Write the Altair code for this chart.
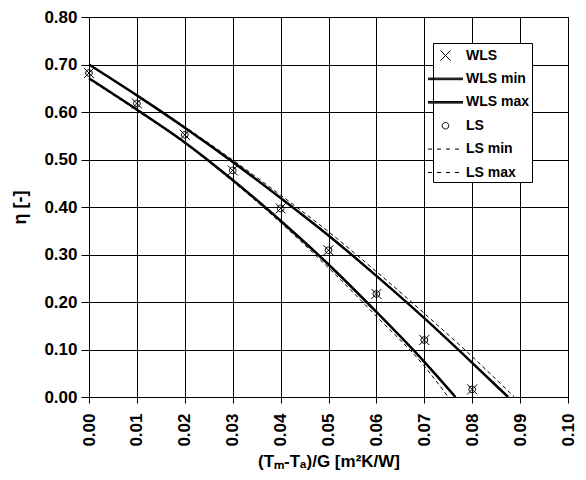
import altair as alt
import pandas as pd

# ---- data ----
x_points = [0.00, 0.01, 0.02, 0.03, 0.04, 0.05, 0.06, 0.07, 0.08]
eta_wls = [0.682, 0.618, 0.552, 0.477, 0.397, 0.309, 0.217, 0.120, 0.016]
eta_ls = [0.682, 0.618, 0.552, 0.477, 0.397, 0.309, 0.217, 0.120, 0.016]

x_wls_max = [0.00, 0.01, 0.02, 0.03, 0.04, 0.05, 0.06, 0.07, 0.08, 0.0875]
eta_wls_max = [0.700, 0.635, 0.567, 0.495, 0.419, 0.340, 0.255, 0.166, 0.072, 0.000]

x_wls_min = [0.00, 0.01, 0.02, 0.03, 0.04, 0.05, 0.06, 0.07, 0.0765]
eta_wls_min = [0.671, 0.605, 0.536, 0.457, 0.371, 0.279, 0.179, 0.074, 0.000]

x_ls_max = [0.00, 0.01, 0.02, 0.03, 0.04, 0.05, 0.06, 0.07, 0.08, 0.0888]
eta_ls_max = [0.700, 0.636, 0.569, 0.499, 0.425, 0.348, 0.264, 0.176, 0.085, 0.000]

x_ls_min = [0.00, 0.01, 0.02, 0.03, 0.04, 0.05, 0.06, 0.07, 0.0750]
eta_ls_min = [0.669, 0.603, 0.534, 0.454, 0.367, 0.272, 0.170, 0.065, 0.000]

series_names = ["WLS", "WLS min", "WLS max", "LS", "LS min", "LS max"]
x_ticks = [0.00, 0.01, 0.02, 0.03, 0.04, 0.05, 0.06, 0.07, 0.08, 0.09, 0.10]
y_ticks = [0.0, 0.1, 0.2, 0.3, 0.4, 0.5, 0.6, 0.7, 0.8]

# ---- tables ----
pts = pd.concat([
    pd.DataFrame({"x": x_points, "eta": eta_wls, "series": "WLS"}),
    pd.DataFrame({"x": x_points, "eta": eta_ls, "series": "LS"}),
])
solid = pd.concat([
    pd.DataFrame({"x": x_wls_min, "eta": eta_wls_min, "series": "WLS min"}),
    pd.DataFrame({"x": x_wls_max, "eta": eta_wls_max, "series": "WLS max"}),
])
dashed = pd.concat([
    pd.DataFrame({"x": x_ls_min, "eta": eta_ls_min, "series": "LS min"}),
    pd.DataFrame({"x": x_ls_max, "eta": eta_ls_max, "series": "LS max"}),
])

FONT = "Liberation Sans"

cross = "M-0.5,-0.5L0.5,0.5M-0.5,0.5L0.5,-0.5"
circ = "M-0.33,0A0.33,0.33 0 1,0 0.33,0A0.33,0.33 0 1,0 -0.33,0Z"
bar = "M-1.75,-0.08L1.75,-0.08M-1.75,0L1.75,0M-1.75,0.08L1.75,0.08"
dash = "M-1.75,0L-1.35,0M-0.85,0L-0.45,0M0.05,0L0.45,0M0.95,0L1.35,0"
shape_range = [cross, bar, bar, circ, dash, dash]

xs = alt.X("x:Q", scale=alt.Scale(domain=[0, 0.1], nice=False),
           axis=alt.Axis(values=x_ticks, format=".2f", labelAngle=270,
                         labelAlign="right", labelBaseline="middle",
                         title="(Tₘ-Tₐ)/G [m²K/W]", tickSize=6, labelPadding=10,
                         titlePadding=7, titleFontSize=17))
ys = alt.Y("eta:Q", scale=alt.Scale(domain=[0, 0.8], nice=False),
           axis=alt.Axis(values=y_ticks, format=".2f", title="η [-]",
                         tickSize=8, labelPadding=4, titlePadding=14,
                         titleFontSize=18))

lines_solid = alt.Chart(solid).mark_line(color="black", strokeWidth=2.5,
                                          interpolate="monotone").encode(
    x=xs, y=ys, detail="series:N")
lines_dashed = alt.Chart(dashed).mark_line(color="black", strokeWidth=1,
                                            strokeDash=[4, 3],
                                            interpolate="monotone").encode(
    x=xs, y=ys, detail="series:N")
points = alt.Chart(pts).mark_point(color="black", filled=False, size=400,
                                   strokeWidth=1, opacity=1).encode(
    x=xs, y=ys,
    shape=alt.Shape("series:N",
                    scale=alt.Scale(domain=series_names, range=shape_range),
                    legend=alt.Legend(title=None, orient="none", legendX=344,
                                      legendY=26, symbolSize=400,
                                      labelOffset=10, rowPadding=5.4,
                                      padding=2, strokeColor="black",
                                      fillColor="white", labelFont=FONT,
                                      labelFontSize=14, labelFontWeight="bold",
                                      labelColor="black",
                                      symbolStrokeColor="black",
                                      symbolStrokeWidth=1)))

chart = alt.layer(lines_solid, lines_dashed, points).properties(
    width=479, height=380,
    background="white",
    autosize=alt.AutoSizeParams(type="none"),
    padding={"left": 81, "top": 9, "right": 10, "bottom": 75},
).configure_axis(
    labelFont=FONT, labelFontSize=17, labelFontWeight="bold", labelColor="black",
    titleFont=FONT, titleFontSize=16, titleFontWeight="bold", titleColor="black",
    grid=True, gridColor="black", gridOpacity=1, gridWidth=1,
    domainColor="black", tickColor="black", domainWidth=1, tickWidth=1,
).configure_view(stroke="black", strokeWidth=1)

chart.save("out.html", embed_options={"renderer": "svg", "actions": False})
